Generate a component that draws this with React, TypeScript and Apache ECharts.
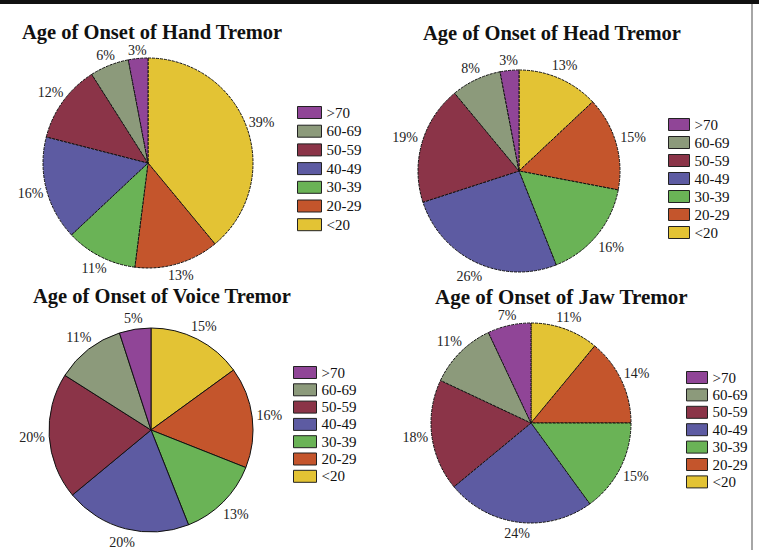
import React, { useEffect, useRef } from "react";
import * as echarts from "echarts";

const categories = ["<20", "20-29", "30-39", "40-49", "50-59", "60-69", ">70"];
const legendOrder = [">70", "60-69", "50-59", "40-49", "30-39", "20-29", "<20"];
const colors = ["#E3C334", "#C4552C", "#6AB356", "#5D5BA2", "#8B3448", "#8C9A7B", "#904597"];

const handValues = [39, 13, 11, 16, 12, 6, 3];
const headValues = [13, 15, 16, 26, 19, 8, 3];
const voiceValues = [15, 16, 13, 20, 20, 11, 5];
const jawValues = [11, 14, 15, 24, 18, 11, 7];

const titles = [
  "Age of Onset of Hand Tremor",
  "Age of Onset of Head Tremor",
  "Age of Onset of Voice Tremor",
  "Age of Onset of Jaw Tremor",
];

const SERIF = "'Liberation Serif', 'Times New Roman', serif";

export default function App() {
  const ref = useRef<HTMLDivElement>(null);
  useEffect(() => {
    document.body.style.margin = "0";
    if (!ref.current) return;
    const chart = echarts.init(ref.current, undefined, { renderer: "svg" });

    const layouts = [
      { center: [148, 163], r: 105, gap: 2, dashed: true, title: [22, 22, 20.5], legend: [297, 105, 24, 12, 3.7] },
      { center: [519, 171], r: 101, gap: 4, dashed: true, title: [423, 23, 20.5], legend: [668, 117, 21, 12, 3] },
      { center: [151, 430], r: 102, gap: 4, dashed: false, title: [33, 286, 20.5], legend: [293, 365, 23, 12, 2.3] },
      { center: [531, 423], r: 100, gap: 3, dashed: true, title: [435, 286, 21], legend: [686, 370, 21, 12, 2.4] },
    ];
    const allValues = [handValues, headValues, voiceValues, jawValues];

    const pies = layouts.map((l, i) => ({
      type: "pie",
      center: l.center,
      radius: l.r,
      startAngle: 90,
      clockwise: true,
      avoidLabelOverlap: false,
      data: categories.map((c, j) => ({ name: c, value: allValues[i][j] })),
      itemStyle: {
        borderColor: "#111",
        borderWidth: 1,
        borderType: l.dashed ? [3, 1] : "solid",
      },
      label: { show: false },
      labelLine: { show: false },
      emphasis: { disabled: true },
    }));

    // invisible rings carrying the percentage labels, pushed just outside the pie edge
    const labelRings = layouts.map((l, i) => ({
      type: "pie",
      center: l.center,
      radius: [l.r, l.r + 2],
      startAngle: 90,
      clockwise: true,
      silent: true,
      avoidLabelOverlap: false,
      data: categories.map((c, j) => ({ name: c, value: allValues[i][j] })),
      itemStyle: { color: "rgba(0,0,0,0)", borderWidth: 0 },
      label: {
        show: true,
        position: "inside",
        formatter: "{c}%",
        fontFamily: SERIF,
        fontSize: 14,
        lineHeight: 14,
        color: "#222",
      },
      labelLine: { show: false },
      labelLayout: (p: any) => {
        const rect = p.labelRect;
        const mx = rect.x + rect.width / 2;
        const my = rect.y + rect.height / 2;
        const dx = mx - l.center[0];
        const dy = my - l.center[1];
        const len = Math.sqrt(dx * dx + dy * dy) || 1;
        const ux = dx / len;
        const uy = dy / len;
        const dist = l.r + l.gap + (rect.width / 2) * Math.abs(ux) + (rect.height / 2 - (uy < 0 ? 2 : 0)) * Math.abs(uy);
        return {
          x: l.center[0] + ux * dist,
          y: l.center[1] + uy * dist,
          align: "center",
          verticalAlign: "middle",
        };
      },
      emphasis: { disabled: true },
    }));

    const option: any = {
      animation: false,
      backgroundColor: "#ffffff",
      color: colors,
      title: layouts.map((l, i) => ({
        text: titles[i],
        left: l.title[0],
        top: l.title[1],
        padding: 0,
        textStyle: {
          fontFamily: SERIF,
          fontWeight: "bold",
          fontSize: l.title[2],
          lineHeight: l.title[2],
          color: "#111",
        },
      })),
      legend: layouts.map((l) => ({
        orient: "vertical",
        left: l.legend[0],
        top: l.legend[1],
        padding: 0,
        itemWidth: l.legend[2],
        itemHeight: l.legend[3],
        itemGap: l.legend[4],
        icon: "rect",
        data: legendOrder,
        selectedMode: false,
        itemStyle: { borderColor: "#222", borderWidth: 1 },
        textStyle: { fontFamily: SERIF, fontSize: 15, lineHeight: 15, color: "#111" },
      })),
      series: [...pies, ...labelRings],
      graphic: [
        { type: "rect", left: 0, top: 0, shape: { width: 759, height: 4 }, style: { fill: "#111" } },
        { type: "line", shape: { x1: 752, y1: 4, x2: 752, y2: 550 }, style: { stroke: "#888", lineWidth: 1.5 } },
      ],
    };
    chart.setOption(option);
    return () => chart.dispose();
  }, []);
  return <div ref={ref} style={{ width: 759, height: 550 }} />;
}
